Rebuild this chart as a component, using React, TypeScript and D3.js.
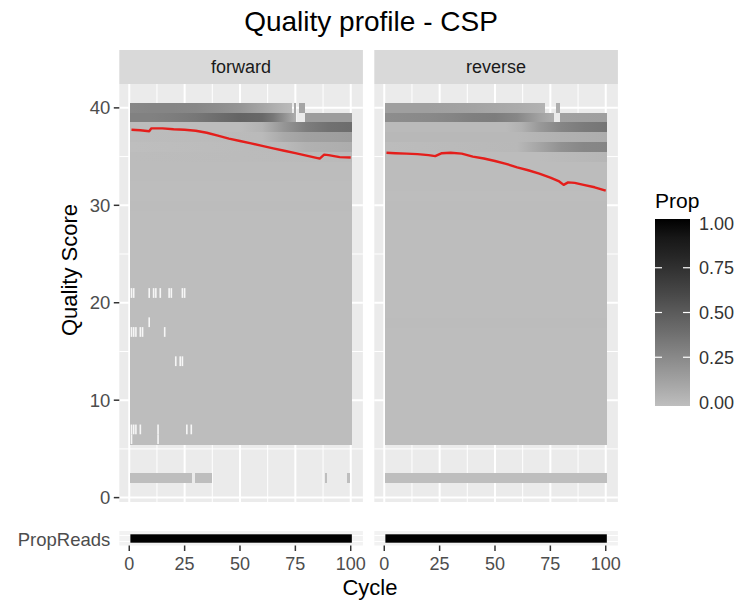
import React from 'react';
import * as d3 from 'd3';

const TITLE = 'Quality profile - CSP';
const FACETS = ['forward', 'reverse'];
const X_TICKS = [0, 25, 50, 75, 100];
const X_MINOR = [12.5, 37.5, 62.5, 87.5];
const Y_TICKS = [0, 10, 20, 30, 40];
const Y_MINOR = [5, 15, 25, 35];
const LEGEND_BREAKS = [0, 0.25, 0.5, 0.75, 1];
const LEGEND_LABELS = ['0.00', '0.25', '0.50', '0.75', '1.00'];

type Seg = { score: number; pts: [number, number][] };

// top rows: [cycle, proportion] stops
const FWD_TOP: Seg[] = [
  { score: 40, pts: [[1, 0.27], [10, 0.28], [20, 0.28], [30, 0.27], [40, 0.24], [50, 0.2], [60, 0.12], [70, 0.04], [73, 0.02]] },
  { score: 40, pts: [[75, 0.1]] },
  { score: 40, pts: [[77, 0.12], [79, 0.12]] },
  { score: 39, pts: [[1, 0.3], [10, 0.3], [20, 0.32], [30, 0.35], [40, 0.4], [50, 0.45], [60, 0.43], [65, 0.35], [70, 0.22], [75, 0.08]] },
  { score: 39, pts: [[80, 0.16], [90, 0.16], [100, 0.16]] },
  { score: 38, pts: [[1, 0.01], [50, 0.01], [60, 0.05], [70, 0.2], [80, 0.32], [90, 0.38], [100, 0.4]] },
  { score: 37, pts: [[1, 0.01], [60, 0.02], [70, 0.1], [80, 0.14], [100, 0.16]] },
  { score: 36, pts: [[1, 0.0], [70, 0.02], [80, 0.06], [100, 0.08]] },
  { score: 35, pts: [[1, 0.01], [100, 0.02]] },
];
const REV_TOP: Seg[] = [
  { score: 40, pts: [[1, 0.15], [20, 0.15], [40, 0.13], [60, 0.09], [70, 0.06], [72, 0.05]] },
  { score: 40, pts: [[78, 0.08], [79, 0.08]] },
  { score: 39, pts: [[1, 0.24], [20, 0.26], [30, 0.28], [40, 0.31], [50, 0.32], [60, 0.27], [70, 0.14], [76, 0.08]] },
  { score: 39, pts: [[80, 0.14], [100, 0.15]] },
  { score: 38, pts: [[1, 0.02], [55, 0.02], [62, 0.06], [70, 0.18], [80, 0.28], [90, 0.33], [100, 0.36]] },
  { score: 37, pts: [[1, 0.03], [60, 0.03], [80, 0.06], [100, 0.08]] },
  { score: 36, pts: [[1, 0.01], [60, 0.03], [70, 0.12], [80, 0.22], [90, 0.27], [100, 0.28]] },
  { score: 35, pts: [[1, 0.01], [70, 0.01], [100, 0.04]] },
];

// body rows (scores 6..34), nearly uniform proportion
const BODY_SCORES = [6, 7, 8, 9, 10, 11, 12, 13, 14, 15, 16, 17, 18, 19, 20, 21, 22, 23, 24, 25, 26, 27, 28, 29, 30, 31, 32, 33, 34];
const FWD_BODY = [0.005, 0.005, 0.004, 0.004, 0.004, 0.004, 0.006, 0.004, 0.004, 0.004, 0.004, 0.004, 0.004, 0.004, 0.004, 0.006, 0.004, 0.004, 0.006, 0.004, 0.006, 0.005, 0.006, 0.006, 0.008, 0.006, 0.007, 0.008, 0.009];
const REV_BODY = [0.005, 0.005, 0.004, 0.006, 0.004, 0.004, 0.006, 0.006, 0.004, 0.004, 0.006, 0.006, 0.008, 0.004, 0.004, 0.006, 0.006, 0.004, 0.006, 0.006, 0.006, 0.006, 0.006, 0.008, 0.008, 0.006, 0.008, 0.009, 0.01];

// low-score row (score 2): [from cycle, to cycle]
const FWD_LOW: [number, number][] = [[1, 28], [30, 37], [89, 89], [99, 99]];
const REV_LOW: [number, number][] = [[1, 100]];

// missing tiles: [score, cycle]
const FWD_GAPS: [number, number][] = [
  [21, 1], [21, 2], [21, 9], [21, 11], [21, 12], [21, 14], [21, 18], [21, 19], [21, 24], [21, 25],
  [18, 9],
  [17, 1], [17, 2], [17, 3], [17, 5], [17, 6], [17, 16],
  [14, 21], [14, 23], [14, 24],
  [7, 1], [7, 2], [7, 3], [7, 5], [7, 13], [7, 26], [7, 28],
  [6, 1], [6, 13],
];
const REV_GAPS: [number, number][] = [];

// mean quality line
const FWD_MEAN_CYCLE = [1, 5, 9, 10, 15, 20, 25, 30, 35, 40, 45, 50, 55, 60, 65, 70, 75, 80, 85, 86, 88, 90, 95, 100];
const FWD_MEAN_Q = [37.75, 37.7, 37.6, 37.9, 37.9, 37.8, 37.75, 37.65, 37.45, 37.15, 36.85, 36.6, 36.35, 36.1, 35.85, 35.6, 35.35, 35.1, 34.85, 34.8, 35.2, 35.15, 34.95, 34.9];
const REV_MEAN_CYCLE = [1, 5, 10, 15, 20, 23, 26, 30, 35, 40, 45, 50, 55, 60, 65, 70, 75, 79, 81, 83, 86, 90, 95, 100];
const REV_MEAN_Q = [35.4, 35.35, 35.3, 35.25, 35.15, 35.05, 35.35, 35.4, 35.3, 35.0, 34.8, 34.55, 34.25, 33.9, 33.6, 33.25, 32.85, 32.45, 32.1, 32.35, 32.3, 32.1, 31.85, 31.5];

// proportion of reads reaching each cycle
const PROP_READS_RANGE: [number, number] = [1, 100];
const PROP_READS_VALUE = 1;

const FONT = "'Liberation Sans', Arial, Helvetica, sans-serif";
const PANEL_W = 243.6;
const PANEL_X = [119.3, 374.3];
const PANEL_TOP = 84;
const PANEL_BOTTOM = 502;

const color = d3.scaleLinear<string>().domain([0, 1]).range(['#BEBEBE', '#000000']).interpolate(d3.interpolateLab);
const yScale = d3.scaleLinear().domain([-0.45, 42.45]).range([PANEL_BOTTOM, PANEL_TOP]);

function Panel({ idx }: { idx: number }) {
  const x0 = PANEL_X[idx];
  const x = d3.scaleLinear().domain([-4.5, 105.5]).range([x0, x0 + PANEL_W]);
  const top = idx === 0 ? FWD_TOP : REV_TOP;
  const body = idx === 0 ? FWD_BODY : REV_BODY;
  const low = idx === 0 ? FWD_LOW : REV_LOW;
  const gaps = idx === 0 ? FWD_GAPS : REV_GAPS;
  const mc = idx === 0 ? FWD_MEAN_CYCLE : REV_MEAN_CYCLE;
  const mq = idx === 0 ? FWD_MEAN_Q : REV_MEAN_Q;
  const rowY = (s: number) => yScale(s + 0.5);
  const rowH = (s: number) => yScale(s - 0.5) - yScale(s + 0.5);
  const line = d3.line<number>().x((_, i) => x(mc[i])).y((d) => yScale(d));
  const propY = d3.scaleLinear().domain([0, 1]).range([542.7, 534.3]);

  return (
    <g>
      {/* strip */}
      <rect x={x0} y={50} width={PANEL_W} height={PANEL_TOP - 50} fill="#D9D9D9" />
      <text x={x0 + PANEL_W / 2} y={73} textAnchor="middle" fontSize={18} fill="#1A1A1A" fontFamily={FONT}>{FACETS[idx]}</text>
      {/* panel */}
      <rect x={x0} y={PANEL_TOP} width={PANEL_W} height={PANEL_BOTTOM - PANEL_TOP} fill="#EBEBEB" />
      {Y_MINOR.map((t) => <line key={'ym' + t} x1={x0} x2={x0 + PANEL_W} y1={yScale(t)} y2={yScale(t)} stroke="#fff" strokeWidth={1} />)}
      {X_MINOR.map((t) => <line key={'xm' + t} y1={PANEL_TOP} y2={PANEL_BOTTOM} x1={x(t)} x2={x(t)} stroke="#fff" strokeWidth={1} />)}
      {Y_TICKS.map((t) => <line key={'y' + t} x1={x0} x2={x0 + PANEL_W} y1={yScale(t)} y2={yScale(t)} stroke="#fff" strokeWidth={2} />)}
      {X_TICKS.map((t) => <line key={'x' + t} y1={PANEL_TOP} y2={PANEL_BOTTOM} x1={x(t)} x2={x(t)} stroke="#fff" strokeWidth={2} />)}
      <defs>
        {top.map((s, i) => s.pts.length > 1 ? (
          <linearGradient key={i} id={`grad-${idx}-${i}`} x1="0" x2="1" y1="0" y2="0">
            {s.pts.map(([c, p], j) => {
              const a = s.pts[0][0] - 0.5;
              const b = s.pts[s.pts.length - 1][0] + 0.5;
              return <stop key={j} offset={(c - a) / (b - a)} stopColor={color(p)} />;
            })}
          </linearGradient>
        ) : null)}
      </defs>
      <g shapeRendering="crispEdges">
        {BODY_SCORES.map((s, i) => (
          <rect key={'b' + s} x={x(0.5)} width={x(100.5) - x(0.5)} y={rowY(s)} height={rowH(s) + 0.5} fill={color(body[i])} />
        ))}
        {top.map((s, i) => {
          const a = s.pts[0][0] - 0.5;
          const b = s.pts[s.pts.length - 1][0] + 0.5;
          return (
            <rect key={'t' + i} x={x(a)} width={x(b) - x(a)} y={rowY(s.score)} height={rowH(s.score) + 0.5}
              fill={s.pts.length > 1 ? `url(#grad-${idx}-${i})` : color(s.pts[0][1])} />
          );
        })}
        {low.map(([a, b], i) => (
          <rect key={'l' + i} x={x(a - 0.5)} width={x(b + 0.5) - x(a - 0.5)} y={rowY(2)} height={rowH(2)} fill={color(0)} />
        ))}
      </g>
      {gaps.map(([s, c], i) => (
        <rect key={'g' + i} x={x(c - 0.5) + 0.3} width={x(c + 0.5) - x(c - 0.5) - 0.6} y={rowY(s)} height={rowH(s)} fill="#F6F6F6" />
      ))}
      <path d={line(mq) || ''} fill="none" stroke="#E41E1B" strokeWidth={2.4} strokeLinejoin="round" />
      {/* left axis on first panel */}
      {idx === 0 && (
        <g fontFamily={FONT}>
          {Y_TICKS.map((t) => (
            <g key={t}>
              <line x1={x0 - 5.5} x2={x0} y1={yScale(t)} y2={yScale(t)} stroke="#333" strokeWidth={1.5} />
              <text x={x0 - 9} y={yScale(t) + 6.5} textAnchor="end" fontSize={18.5} fill="#4D4D4D">{t}</text>
            </g>
          ))}
          <text x={x0 - 9} y={546} textAnchor="end" fontSize={18.5} fill="#4D4D4D">PropReads</text>
        </g>
      )}
      {/* PropReads panel */}
      <rect x={x0} y={531} width={PANEL_W} height={14.5} fill="#F2F2F2" />
      <line x1={x0} x2={x0 + PANEL_W} y1={535.5} y2={535.5} stroke="#fff" strokeWidth={1} />
      <line x1={x0} x2={x0 + PANEL_W} y1={541.5} y2={541.5} stroke="#fff" strokeWidth={1} />
      <rect x={x(PROP_READS_RANGE[0] - 0.5)} width={x(PROP_READS_RANGE[1] + 0.5) - x(PROP_READS_RANGE[0] - 0.5)}
        y={propY(PROP_READS_VALUE)} height={propY(0) - propY(PROP_READS_VALUE)} fill={color(PROP_READS_VALUE)} />
      {/* bottom axis */}
      <g fontFamily={FONT}>
        {X_TICKS.map((t) => (
          <g key={t}>
            <line x1={x(t)} x2={x(t)} y1={545.5} y2={551} stroke="#333" strokeWidth={1.5} />
            <text x={x(t)} y={570} textAnchor="middle" fontSize={18} fill="#4D4D4D">{t}</text>
          </g>
        ))}
      </g>
    </g>
  );
}

function Legend() {
  const bx = 655, bw = 35, by0 = 219, by1 = 406;
  const ly = d3.scaleLinear().domain([0, 1]).range([402, 223]);
  const stops = d3.range(0, 1.0001, 0.1);
  return (
    <g fontFamily={FONT}>
      <text x={bx} y={208} fontSize={21} fill="#000">Prop</text>
      <defs>
        <linearGradient id="legend-grad" x1="0" x2="0" y1="1" y2="0">
          {stops.map((s, i) => <stop key={i} offset={s} stopColor={color(s)} />)}
        </linearGradient>
      </defs>
      <rect x={bx} y={by0} width={bw} height={by1 - by0} fill="url(#legend-grad)" />
      {LEGEND_BREAKS.map((b, i) => (
        <g key={i}>
          {b > 0 && b < 1 && (
            <>
              <line x1={bx} x2={bx + 7} y1={ly(b)} y2={ly(b)} stroke="#fff" strokeWidth={1.2} />
              <line x1={bx + bw - 7} x2={bx + bw} y1={ly(b)} y2={ly(b)} stroke="#fff" strokeWidth={1.2} />
            </>
          )}
          <text x={bx + bw + 9} y={ly(b) + 6.5} fontSize={18} fill="#333">{LEGEND_LABELS[i]}</text>
        </g>
      ))}
    </g>
  );
}

export default function App() {
  return (
    <svg width={743} height={603} viewBox="0 0 743 603" style={{ display: 'block', position: 'absolute', left: 0, top: 0, background: '#fff' }}>
      <rect width={743} height={603} fill="#fff" />
      <text x={371} y={31} textAnchor="middle" fontSize={28} fill="#000" fontFamily={FONT}>{TITLE}</text>
      <Panel idx={0} />
      <Panel idx={1} />
      <text transform="translate(77,270) rotate(-90)" textAnchor="middle" fontSize={22} fill="#000" fontFamily={FONT}>Quality Score</text>
      <text x={370} y={595} textAnchor="middle" fontSize={22} fill="#000" fontFamily={FONT}>Cycle</text>
      <Legend />
    </svg>
  );
}
